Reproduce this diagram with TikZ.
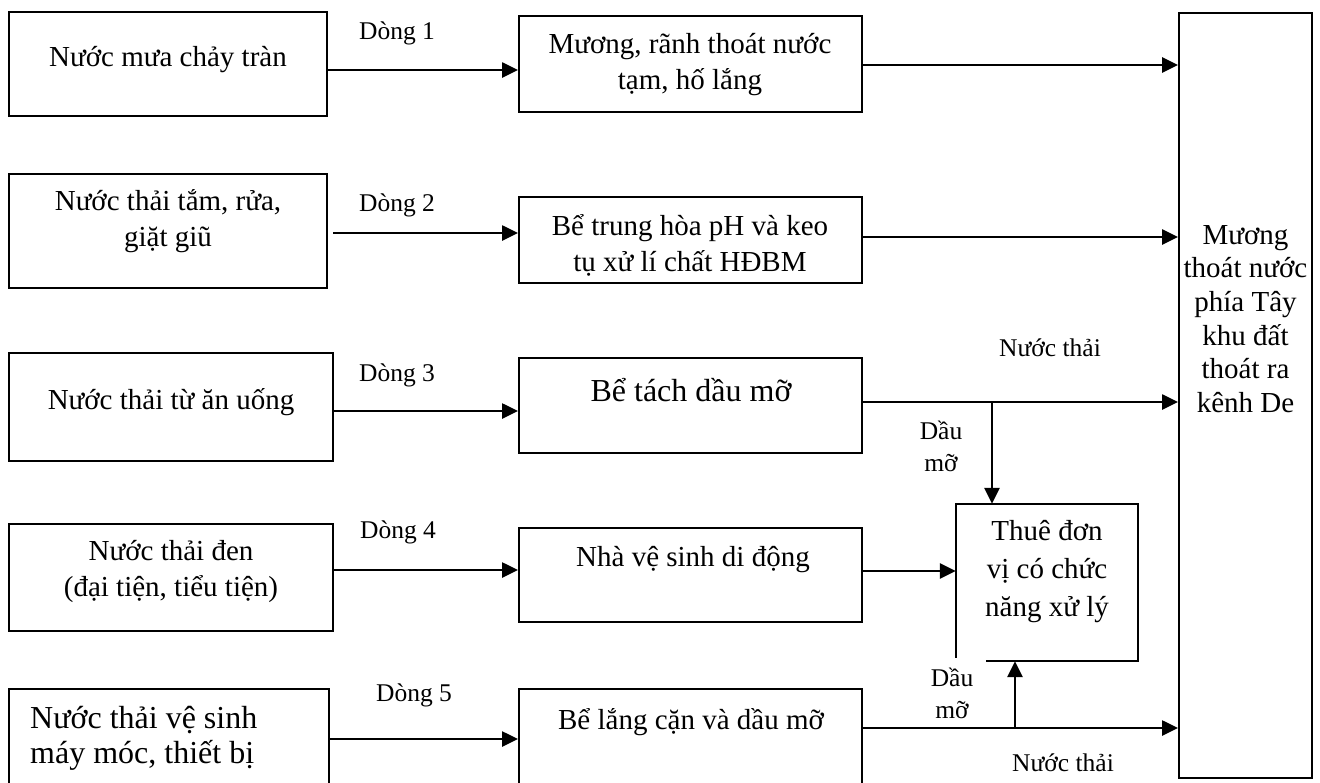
\documentclass[tikz,border=0pt]{standalone}
\usepackage{fontspec}
\setmainfont{Liberation Serif}
\usetikzlibrary{arrows.meta}
\tikzset{
  boxnode/.style={draw, line width=2pt, inner sep=0pt},
  ghost/.style={inner sep=0pt},
  txt/.style={inner sep=0pt, align=center, font=\fontsize{29}{36}\selectfont},
  bigtxt/.style={inner sep=0pt, font=\fontsize{32}{35}\selectfont},
  lbl/.style={inner sep=0pt, align=center, font=\fontsize{25.5}{32}\selectfont},
  flow/.style={line width=2.6pt, -{Triangle[length=16pt,width=15pt]}},
  outline/.style={line width=2pt, line cap=rect},
}
\begin{document}
\begin{tikzpicture}[x=1pt,y=-1pt]
\useasboundingbox (0,0) rectangle (1320,782);
\clip (0,0) rectangle (1320,782);
% left column
\node[boxnode, minimum width=318pt, minimum height=104pt] (L1) at (168,64) {};
\node[boxnode, minimum width=318pt, minimum height=114pt] (L2) at (168,231) {};
\node[boxnode, minimum width=324pt, minimum height=108pt] (L3) at (171,407) {};
\node[boxnode, minimum width=324pt, minimum height=107pt] (L4) at (171,577.5) {};
\node[boxnode, minimum width=320pt, minimum height=131pt] (L5) at (169,754.5) {};
% middle column
\node[boxnode, minimum width=343pt, minimum height=96pt] (M1) at (690.5,64) {};
\node[boxnode, minimum width=343pt, minimum height=86pt] (M2) at (690.5,240) {};
\node[boxnode, minimum width=343pt, minimum height=95pt] (M3) at (690.5,405.5) {};
\node[boxnode, minimum width=343pt, minimum height=94pt] (M4) at (690.5,575) {};
\node[boxnode, minimum width=343pt, minimum height=131pt] (M5) at (690.5,754.5) {};
% right column and treatment box
\node[boxnode, minimum width=133pt, minimum height=765pt] (R) at (1245.5,395.5) {};
\node[ghost, minimum width=182pt, minimum height=157pt] (T) at (1047,582.5) {};
\draw[outline] ([xshift=31pt]T.south west) -- (T.south east) -- (T.north east) -- (T.north west) -- ([yshift=4pt]T.south west);

% texts in boxes
\node[txt] (tL1) at (168,60) {Nước mưa chảy tràn};
\node[txt] (tL2) at (168,221) {Nước thải tắm, rửa,\\giặt giũ};
\node[txt] (tL3) at (171,402) {Nước thải từ ăn uống};
\node[txt] (tL4) at (171,571) {Nước thải đen\\(đại tiện, tiểu tiện)};
\node[bigtxt, align=left, anchor=west] (tL5) at (30,738) {Nước thải vệ sinh\\máy móc, thiết bị};
\node[txt] (tM1) at (690,65) {Mương, rãnh thoát nước\\tạm, hố lắng};
\node[txt] (tM2) at (690,245) {Bể trung hòa pH và keo\\tụ xử lí chất HĐBM};
\node[bigtxt] (tM3) at (691,390) {Bể tách dầu mỡ};
\node[txt] (tM4) at (693,560) {Nhà vệ sinh di động};
\node[txt] (tM5) at (691,722) {Bể lắng cặn và dầu mỡ};
\node[txt, font=\fontsize{29}{38}\selectfont] (tT) at (1047,572) {Thuê đơn\\vị có chức\\năng xử lý};
\node[txt, font=\fontsize{29}{33.6}\selectfont] (tR) at (1245.5,319) {Mương\\thoát nước\\phía Tây\\khu đất\\thoát ra\\kênh De};

% flow labels
\node[lbl] (d1) at (397,33) {Dòng 1};
\node[lbl] (d2) at (397,205) {Dòng 2};
\node[lbl] (d3) at (397,375) {Dòng 3};
\node[lbl] (d4) at (398,532) {Dòng 4};
\node[lbl] (d5) at (414,695) {Dòng 5};
\node[lbl] (nt1) at (1050,348) {Nước thải};
\node[lbl] (dm1) at (941,446) {Dầu\\mỡ};
\node[lbl] (dm2) at (952,693.5) {Dầu\\mỡ};
\node[lbl] (nt2) at (1063,763) {Nước thải};

% row levels
\coordinate (ya1) at (0,70);
\coordinate (ya2) at (0,233);
\coordinate (ya3) at (0,411);
\coordinate (ya4) at (0,570);
\coordinate (ya5) at (0,739);
\coordinate (yb1) at (0,65);
\coordinate (yb2) at (0,237);
\coordinate (yb3) at (0,402);
\coordinate (yb4) at (0,571);
\coordinate (yb5) at (0,728);
\coordinate (j3) at (992,402);
\coordinate (j5) at (1015,728);

% connectors left -> middle
\draw[flow] (L1.east |- ya1) -- (M1.west |- ya1);
\draw[flow, shorten <=5pt] (L2.east |- ya2) -- (M2.west |- ya2);
\draw[flow] (L3.east |- ya3) -- (M3.west |- ya3);
\draw[flow] (L4.east |- ya4) -- (M4.west |- ya4);
\draw[flow] (L5.east |- ya5) -- (M5.west |- ya5);
% middle -> right
\draw[flow] (M1.east |- yb1) -- (R.west |- yb1);
\draw[flow] (M2.east |- yb2) -- (R.west |- yb2);
\draw[flow] (M3.east |- yb3) -- (R.west |- yb3);
\draw[flow] (M4.east |- yb4) -- (T.west |- yb4);
\draw[flow] (M5.east |- yb5) -- (R.west |- yb5);
% branches to treatment
\draw[flow] (j3) -- (j3 |- T.north);
\draw[flow] (j5) -- (j5 |- T.south);
\end{tikzpicture}
\end{document}
